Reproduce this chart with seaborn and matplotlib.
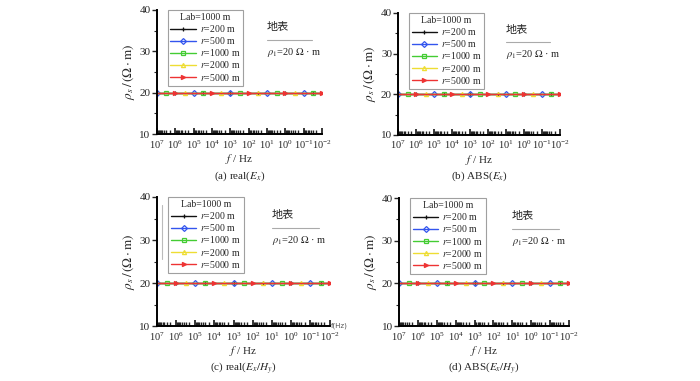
import matplotlib
matplotlib.use('Agg')
import matplotlib.pyplot as plt
import matplotlib.ticker as mticker
from matplotlib.lines import Line2D
import seaborn as sns

# frequencies (Hz), half-decade steps from 10^7 down to 10^-2
freq = [1e7, 3e6, 1e6, 3e5, 1e5, 3e4, 1e4, 3e3, 1e3, 3e2, 1e2, 3e1, 1e1, 3e0, 1e0,
        3e-1, 1e-1, 3e-2, 1e-2]

# apparent resistivity (Ohm.m) for each offset r (flat at 20)
rho_r200 = [20.0, 20.0, 20.0, 20.0, 20.0, 20.0, 20.0, 20.0, 20.0, 20.0, 20.0, 20.0, 20.0, 20.0, 20.0, 20.0, 20.0, 20.0, 20.0]
rho_r500 = [20.0, 20.0, 20.0, 20.0, 20.0, 20.0, 20.0, 20.0, 20.0, 20.0, 20.0, 20.0, 20.0, 20.0, 20.0, 20.0, 20.0, 20.0, 20.0]
rho_r1000 = [20.0, 20.0, 20.0, 20.0, 20.0, 20.0, 20.0, 20.0, 20.0, 20.0, 20.0, 20.0, 20.0, 20.0, 20.0, 20.0, 20.0, 20.0, 20.0]
rho_r2000 = [20.0, 20.0, 20.0, 20.0, 20.0, 20.0, 20.0, 20.0, 20.0, 20.0, 20.0, 20.0, 20.0, 20.0, 20.0, 20.0, 20.0, 20.0, 20.0]
rho_r5000 = [20.0, 20.0, 20.0, 20.0, 20.0, 20.0, 20.0, 20.0, 20.0, 20.0, 20.0, 20.0, 20.0, 20.0, 20.0, 20.0, 20.0, 20.0, 20.0]

series_labels = ['$r$=200 m', '$r$=500 m', '$r$=1000 m', '$r$=2000 m', '$r$=5000 m']
series_data = [rho_r200, rho_r500, rho_r1000, rho_r2000, rho_r5000]
captions = ['(a) real($E_x$)', '(b) ABS($E_x$)', '(c) real($E_x/H_y$)', '(d) ABS($E_x/H_y$)']

colors = ['#111111', '#3355ee', '#44cc33', '#eedd33', '#ee3333']
markers = ['+', 'D', 's', '^', '>']
mevery = [(1, 3), (2, 4), (1, 4), (3, 4), (0, 4)]

sns.set_style('white')
plt.rcParams['font.family'] = ['Liberation Serif', 'Noto Sans CJK SC']
plt.rcParams['mathtext.fontset'] = 'stix'
plt.rcParams['axes.unicode_minus'] = False

fig = plt.figure(figsize=(7, 3.81), dpi=100)
# [left, bottom, width, height] in figure fractions
boxes = [[0.224, 0.648, 0.236, 0.326],
         [0.569, 0.646, 0.231, 0.320],
         [0.224, 0.144, 0.247, 0.339],
         [0.570, 0.144, 0.243, 0.336]]

for i, box in enumerate(boxes):
    ax = fig.add_axes(box)
    for k in range(5):
        fc = 'none' if markers[k] in ('D', 's', '^') else colors[k]
        sns.lineplot(x=freq, y=series_data[k], ax=ax, color=colors[k], lw=1.0,
                     marker=markers[k], markersize=3, markevery=mevery[k],
                     markerfacecolor=fc, markeredgecolor=colors[k], markeredgewidth=0.9,
                     label=series_labels[k])
    ax.set_xscale('log')
    ax.set_xlim(1e7, 1e-2)
    ax.set_ylim(10, 40)
    ax.set_yticks([10, 20, 30, 40])
    ax.yaxis.set_minor_locator(mticker.MultipleLocator(5))
    ax.xaxis.set_major_locator(mticker.LogLocator(base=10, numticks=20))
    ax.xaxis.set_minor_locator(mticker.LogLocator(base=10, subs=range(2, 10), numticks=20))
    ax.xaxis.set_major_formatter(mticker.LogFormatterMathtext())
    ax.xaxis.set_minor_formatter(mticker.NullFormatter())
    for s in ('top', 'right'):
        ax.spines[s].set_visible(False)
    ax.spines['left'].set_linewidth(1.4)
    ax.spines['bottom'].set_linewidth(1.4)
    ax.spines['left'].set_color('black')
    ax.spines['bottom'].set_color('black')
    ax.tick_params(axis='x', which='major', direction='in', length=4.5, width=1.3,
                   labelsize=7.5, pad=3, bottom=True)
    ax.tick_params(axis='x', which='minor', direction='in', length=3, width=1.0,
                   bottom=True, color='#222222')
    ax.tick_params(axis='y', which='major', direction='out', length=3.5, width=1.0,
                   labelsize=8, pad=1, left=True)
    ax.tick_params(axis='y', which='minor', direction='out', length=2, width=0.8, left=True)
    ax.grid(False)
    ax.set_ylabel(r'$\rho_s\,/\,(\Omega\cdot\mathrm{m})$', fontsize=9.5, labelpad=2)
    ax.set_xlabel(r'$f$ / Hz', fontsize=8, labelpad=1)
    ax.annotate(captions[i], xy=(0.5, 0), xycoords='axes fraction', xytext=(0, -30),
                textcoords='offset points', ha='center', va='center', fontsize=8)

    leg = ax.legend(title='Lab=1000 m', loc='upper left', bbox_to_anchor=(0.065, 1.0),
                    borderaxespad=0, fontsize=7, title_fontsize=7, frameon=True,
                    fancybox=False, edgecolor='#888888', handlelength=2.6,
                    labelspacing=0.12, borderpad=0.3, handletextpad=0.4)
    leg.get_frame().set_linewidth(0.8)

    ax.text(0.665, 0.86, '地表', transform=ax.transAxes, fontsize=8,
            ha='left', va='center')
    ax.add_line(Line2D([0.665, 0.94], [0.76, 0.76], transform=ax.transAxes,
                       color='#aaaaaa', lw=0.8))
    ax.text(0.665, 0.66, r'$\rho_1$=20 $\Omega$ · m', transform=ax.transAxes,
            fontsize=7.5, ha='left', va='center')

    if i == 2:
        ax.text(1.005, 0.0, 'f(Hz)', transform=ax.transAxes, fontsize=5,
                family='DejaVu Sans', color='#555555', ha='left', va='center')
        ax.add_line(Line2D([0.03, 0.03], [0.52, 0.94], transform=ax.transAxes,
                           color='#bbbbbb', lw=0.8))

fig.savefig('out.png', dpi=100)
